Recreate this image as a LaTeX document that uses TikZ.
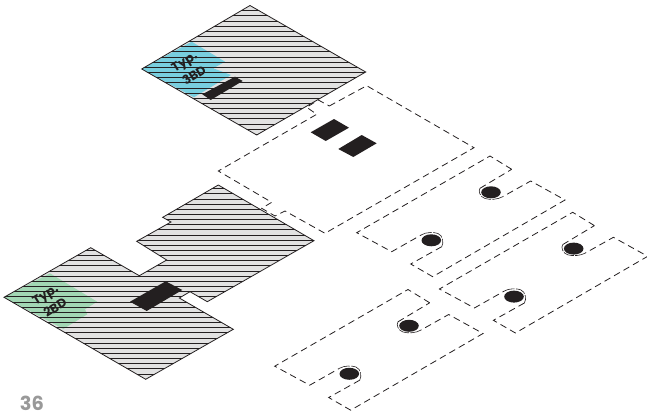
\documentclass[tikz,border=0pt]{standalone}
\usepackage{fontspec}
\setmainfont{Poppins}
\usetikzlibrary{calc}
\definecolor{ink}{HTML}{231F20}
\definecolor{floorgrey}{HTML}{E2E2E2}
\definecolor{blueroom}{HTML}{78CFDF}
\definecolor{greenroom}{HTML}{A2D7B4}
\definecolor{pagegrey}{HTML}{999999}
\tikzset{
  x=0.75pt,y=-0.75pt,
  outline/.style={draw=ink,line width=0.6pt,line join=miter},
  hatch/.style={draw=ink,line width=0.65pt},
  dashline/.style={draw=ink,line width=0.6pt,dash pattern=on 5pt off 3.2pt},
  hook/.style={draw=ink,line width=0.45pt,dash pattern=on 8pt off 1pt},
  core/.style={fill=ink,draw=none},
  roomlabel/.style={font=\bfseries\fontsize{9.4pt}{10pt}\selectfont,text=ink,rotate=32,inner sep=0pt},
}
\newcommand{\stripshape}[2]{%
  \begin{scope}[shift={(#1,#2)}]
    \draw[dashline] (511.7,169.3) -- (490,156) -- (356.7,232.7) -- (391.7,251.7) -- (421.5,234.8)
      (441.7,246.7) -- (410.7,264) -- (432.7,276.7) -- (565,200) -- (530.7,181) -- (502.7,196.7)
      (480,188.3) -- (511.7,169.3);
    \fill[core] (491,192.3) ellipse [x radius=9.8,y radius=6];
    \fill[core] (431.3,240.3) ellipse [x radius=9.8,y radius=6];
    \draw[hook] (502.7,196.7) .. controls (498,199.5) and (490,200) .. (485,198.5) .. controls (480,197) and (478,191) .. (480,188.3);
    \draw[hook] (421.5,234.8) .. controls (426,232) and (434,232) .. (438,233.5) .. controls (443,235.5) and (444,243) .. (441.7,246.7);
  \end{scope}}
\begin{document}
\begin{tikzpicture}
\useasboundingbox (0,0) rectangle (647,414);
% dashed upper plate
\draw[dashline] (329.3,106) -- (366.7,85.7) -- (474,147.7) -- (325,233.3) -- (285,211) -- (275,216)
  -- (261.7,208.3) -- (271.7,202.3) -- (218.3,171) -- (316.7,114.3) -- (306.7,107.3) -- (318.3,100) -- cycle;
\fill[core] (310.7,132.3) -- (334,119) -- (349,127.7) -- (325.7,141) -- cycle;
\fill[core] (338.3,149) -- (361.7,135) -- (376.7,143.3) -- (353.3,157) -- cycle;
% dashed strips
\stripshape{0}{0}
\stripshape{82.7}{56.3}
\stripshape{-82}{133.5}
% top floor
\begin{scope}
  \clip (250,5.5) -- (365.7,72) -- (256.7,135) -- (141.7,69) -- cycle;
  \fill[floorgrey] (130,0) rectangle (370,140);
  \fill[blueroom] (141.7,69) -- (191.7,41.7) -- (225,61.7) -- (213.3,68.3) -- (231,75) -- (194,97.3) -- cycle;
  \foreach \k in {0,...,25} \draw[hatch] (130,10.7+5.15*\k) -- (370,10.7+5.15*\k);
\end{scope}
\draw[outline] (250,5.5) -- (365.7,72) -- (256.7,135) -- (141.7,69) -- cycle;
\fill[core] (202.3,94.3) -- (235,76.7) -- (242.7,81) -- (210.7,100) -- cycle;
\node[roomlabel] (typa) at (185,63) {Typ.};
\node[roomlabel] (beda) at (194,75) {3BD};
% lower floor
\begin{scope}
  \clip (218.3,185) -- (314,240.7) -- (207.3,301.7) -- (190,291.7) -- (179.3,298) -- (233.3,329.3) -- (145.7,379.3) -- (4,297.3) -- (90.7,247.7) -- (139.3,275.7) -- (166.7,260) -- (136.7,241.3) -- (171,222) -- (162.7,217.3) -- cycle;
  \fill[floorgrey] (0,180) rectangle (320,385);
  \fill[greenroom] (4,297.3) -- (50,273.3) -- (97.3,301.7) -- (85,309.3) -- (87.3,314.3) -- (63.3,329) -- cycle;
  \foreach \k in {-11,...,29} \draw[hatch] (0,235+5.15*\k) -- (320,235+5.15*\k);
\end{scope}
\draw[outline] (218.3,185) -- (314,240.7) -- (207.3,301.7) -- (190,291.7) -- (179.3,298) -- (233.3,329.3) -- (145.7,379.3) -- (4,297.3) -- (90.7,247.7) -- (139.3,275.7) -- (166.7,260) -- (136.7,241.3) -- (171,222) -- (162.7,217.3) -- cycle;
\fill[core] (130,301.7) -- (165.7,281.3) -- (182.3,290) -- (146.7,311) -- cycle;
\node[roomlabel] (typb) at (46,296) {Typ.};
\node[roomlabel] (bedb) at (55,307.5) {2BD};
% page number
\node[font=\bfseries\fontsize{14.5pt}{15pt}\selectfont,text=pagegrey,inner sep=0pt] (page) at (32,403.5) {36};
\end{tikzpicture}
\end{document}
